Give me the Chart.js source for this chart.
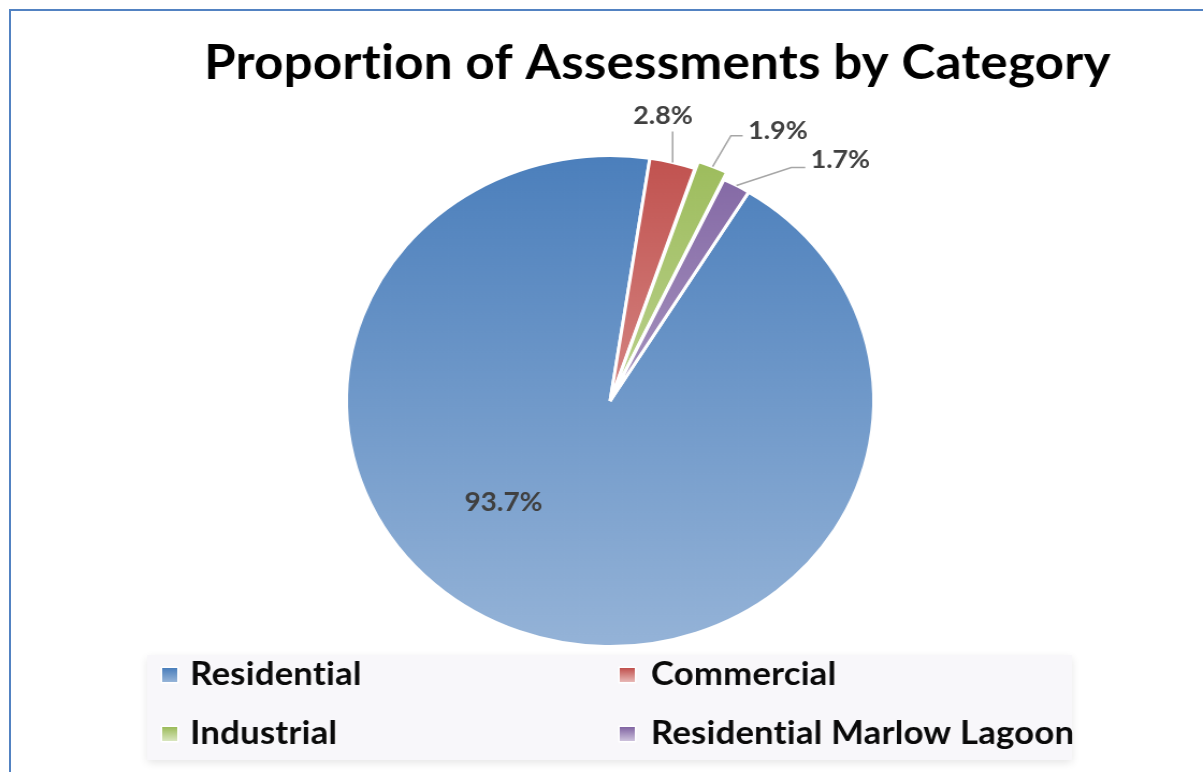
<!DOCTYPE html>
<html>
<head>
<meta charset="utf-8">
<script src="https://cdn.jsdelivr.net/npm/chart.js@4.4.1/dist/chart.umd.min.js"></script>
<style>
  html, body { margin: 0; padding: 0; background: #ffffff; overflow: hidden; }
  #stage { position: absolute; left: 0; top: 0; width: 1120px; height: 772px;
           transform: scaleX(1.0741); transform-origin: 0 0; }
  #frame { position: absolute; left: 9px; top: 9px; width: 1400px; height: 900px;
           border-top: 2px solid #5282c2; border-left: 2px solid #5282c2; pointer-events: none; }
</style>
</head>
<body>
<div id="stage"><canvas id="chart" width="1120" height="772"></canvas></div>
<div id="frame"></div>
<script>
// Assessment counts split by category (percent of all assessments)
const TITLE = 'Proportion of Assessments by Category';
const categories = ['Residential', 'Commercial', 'Industrial', 'Residential Marlow Lagoon'];
const shares = [93.7, 2.8, 1.9, 1.7];

// Slice fills: darker shade at the top of the pie fading to a light tint at the bottom
const topColors = ['#4a7ebb', '#c0504d', '#9bbb59', '#8064a2'];
const bottomColors = ['#96b4d8', '#e8b8b6', '#d9e6bf', '#cdc2dc'];

// Where each percentage label sits relative to its slice
const labelLayout = [
  { inside: true, r: 0.58, turn: 24 },
  { cx: -9, cy: -47, align: 'center', leader: [[0, -31]] },
  { cx: 33, cy: -36, align: 'left', leader: [[17, -31], [28, -31]] },
  { cx: 69, cy: -26, align: 'left', leader: [[51, -18], [64, -18]] }
];

const FONT = 'Lato, "Open Sans", "DejaVu Sans", sans-serif';

function verticalFill(ctx, i) {
  const chart = ctx.chart;
  const area = chart.chartArea;
  if (!area) return topColors[i];
  const g = chart.ctx.createLinearGradient(0, area.top, 0, area.bottom);
  g.addColorStop(0, topColors[i]);
  g.addColorStop(1, bottomColors[i]);
  return g;
}

const decorations = {
  id: 'decorations',
  afterDraw(chart) {
    const ctx = chart.ctx;
    const meta = chart.getDatasetMeta(0);
    const data = chart.data.datasets[0].data;

    // title (a hair of letter spacing keeps "ti" from joining into a ligature)
    ctx.save();
    ctx.fillStyle = '#000000';
    ctx.font = 'bold 47.6px ' + FONT;
    ctx.letterSpacing = '0.2px';
    ctx.textAlign = 'center';
    ctx.textBaseline = 'alphabetic';
    ctx.fillText(TITLE, 612, 79);
    ctx.restore();

    // percentage labels and leader lines
    meta.data.forEach((arc, i) => {
      const p = arc.getProps(['x', 'y', 'startAngle', 'endAngle', 'outerRadius'], true);
      const half = (p.startAngle + p.endAngle) / 2;
      const text = data[i].toFixed(1) + '%';
      const lay = labelLayout[i];
      ctx.save();
      ctx.fillStyle = '#404040';
      ctx.textBaseline = 'middle';
      if (lay.inside) {
        ctx.font = 'bold 26px ' + FONT;
        const th = half + lay.turn * Math.PI / 180;
        const rr = p.outerRadius * lay.r;
        ctx.textAlign = 'center';
        ctx.fillText(text, p.x + rr * Math.cos(th), p.y + rr * Math.sin(th));
      } else {
        ctx.font = 'bold 25px ' + FONT;
        const off = (arc.options.offset || 0) / 4;
        const circ = p.endAngle - p.startAngle;
        const fix = 1 - Math.sin(Math.min(Math.PI, circ));
        const rEdge = p.outerRadius + off * (1 + fix);
        const sx = p.x + rEdge * Math.cos(half);
        const sy = p.y + rEdge * Math.sin(half);
        ctx.strokeStyle = '#a6a6a6';
        ctx.lineWidth = 1.6;
        ctx.beginPath();
        ctx.moveTo(sx, sy);
        lay.leader.forEach(pt => ctx.lineTo(sx + pt[0], sy + pt[1]));
        ctx.stroke();
        ctx.textAlign = lay.align;
        ctx.fillText(text, sx + lay.cx, sy + lay.cy);
      }
      ctx.restore();
    });

    // legend panel
    ctx.save();
    ctx.shadowColor = 'rgba(0,0,0,0.10)';
    ctx.shadowBlur = 8;
    ctx.shadowOffsetY = 3;
    ctx.fillStyle = '#f8f7fa';
    ctx.fillRect(137, 655, 861, 105);
    ctx.restore();

    const cols = [151, 577];
    const rows = [685, 744];
    chart.data.labels.forEach((label, i) => {
      const x = cols[i % 2];
      const base = rows[Math.floor(i / 2)];
      const top = base - 17;
      ctx.save();
      ctx.fillStyle = '#ffffff';
      ctx.fillRect(x - 1.5, top - 1.5, 17, 17);
      const g = ctx.createLinearGradient(0, top, 0, top + 14);
      g.addColorStop(0, topColors[i]);
      g.addColorStop(1, bottomColors[i]);
      ctx.fillStyle = g;
      ctx.fillRect(x, top, 14, 14);
      ctx.fillStyle = '#0a0a0a';
      ctx.font = 'bold 32.3px ' + FONT;
      ctx.letterSpacing = '0.2px';
      ctx.textAlign = 'left';
      ctx.textBaseline = 'alphabetic';
      ctx.fillText(label, x + 26 + (i % 2) * 3, base);
      ctx.restore();
    });
  }
};

new Chart(document.getElementById('chart'), {
  type: 'pie',
  data: {
    labels: categories,
    datasets: [{
      data: shares,
      backgroundColor: (ctx) => verticalFill(ctx, ctx.dataIndex),
      borderColor: '#ffffff',
      borderWidth: 3,
      offset: [0, 0, 16, 0]
    }]
  },
  options: {
    responsive: false,
    animation: false,
    rotation: 31.7,
    layout: { padding: { top: 146, bottom: 116, left: 16, right: 0 } },
    plugins: {
      legend: { display: false },
      title: { display: false },
      tooltip: { enabled: false }
    }
  },
  plugins: [decorations]
});
</script>
</body>
</html>
